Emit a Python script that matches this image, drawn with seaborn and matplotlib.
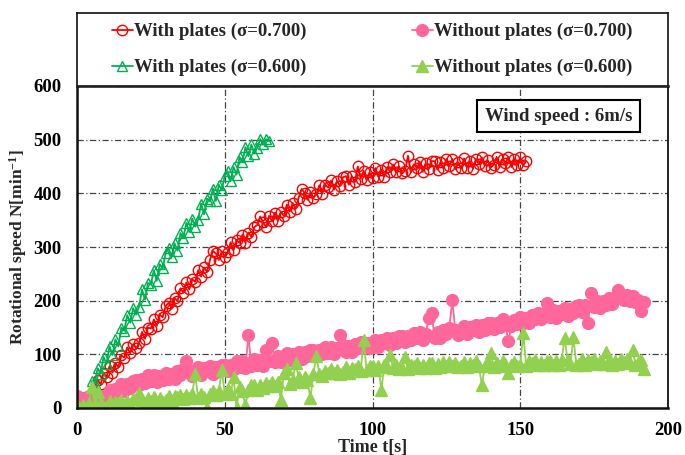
import numpy as np
import pandas as pd
import matplotlib
matplotlib.use("Agg")
import matplotlib.pyplot as plt
import seaborn as sns

# rotational speed N [min^-1], one reading per second from t = 0 s
with_070 = [
    1, 0, 3, 1, 4, 9, 30, 52, 44, 66, 57,
    78, 66, 84, 76, 98, 94, 113, 102, 119, 111,
    121, 142, 129, 150, 148, 165, 153, 174, 169, 190,
    196, 185, 205, 199, 223, 215, 234, 221, 240, 235,
    257, 245, 262, 254, 276, 293, 288, 276, 292, 282,
    290, 309, 294, 313, 308, 323, 308, 327, 319, 337,
    341, 357, 346, 337, 358, 348, 364, 349, 366, 358,
    379, 366, 382, 371, 392, 408, 401, 388, 402, 392,
    398, 415, 399, 416, 411, 424, 407, 423, 414, 430,
    432, 416, 432, 421, 450, 427, 442, 424, 439, 429,
    447, 431, 444, 431, 449, 440, 454, 439, 450, 437,
    442, 470, 439, 454, 447, 459, 440, 456, 445, 460,
    460, 444, 458, 447, 464, 450, 464, 445, 458, 447,
    465, 448, 460, 446, 464, 454, 467, 451, 462, 448,
    453, 468, 449, 464, 456, 468, 449, 464, 453, 467, 452, 460,
]
with_060 = [
    0, 1, 0, 2, 3,
    50, 47, 74, 64, 95, 82,
    115, 99, 128, 115, 150, 144, 173, 159, 186, 174,
    189, 221, 202, 233, 230, 257, 237, 268, 260, 289,
    298, 281, 307, 293, 326, 317, 345, 328, 353, 338,
    351, 381, 361, 390, 385, 409, 386, 416, 406, 433,
    441, 423, 449, 435, 468, 459, 486, 469, 491, 474,
    485, 501, 491, 501, 497,
]
without_070 = [
    22, 9, 19, 8, 23, 15, 26, 13, 23, 13,
    18, 33, 21, 36, 33, 44, 31, 45, 38, 51,
    53, 42, 54, 47, 61, 51, 62, 48, 60, 52,
    66, 54, 64, 54, 69, 62, 72, 88, 70, 60,
    63, 76, 62, 75, 70, 78, 64, 77, 69, 81,
    81, 69, 81, 73, 87, 77, 88, 74, 136, 78,
    92, 80, 89, 79, 108, 87, 121, 86, 96, 86,
    90, 103, 89, 101, 96, 105, 91, 104, 96, 108,
    108, 96, 108, 100, 114, 103, 114, 100, 112, 136,
    117, 105, 115, 105, 120, 112, 123, 111, 121, 111,
    114, 127, 113, 126, 121, 131, 117, 130, 122, 134,
    135, 123, 135, 126, 140, 130, 141, 126, 138, 168,
    177, 131, 141, 130, 145, 138, 149, 201, 146, 136,
    140, 153, 138, 151, 146, 155, 141, 154, 146, 158,
    159, 147, 159, 151, 165, 155, 124, 152, 164, 156,
    170, 158, 168, 158, 173, 166, 177, 165, 175, 195,
    169, 182, 168, 181, 176, 186, 172, 185, 177, 190,
    191, 179, 191, 158, 214, 189, 200, 186, 199, 191,
    205, 193, 203, 220, 208, 201, 211, 199, 208, 198,
    201, 181, 197,
]
without_060 = [
    6, 0, 5, 0, 9, 40, 10, 30, 9, 2,
    4, 13, 3, 12, 9, 15, 6, 13, 7, 16,
    16, 28, 15, 9, 19, 13, 20, 12, 19, 12,
    14, 23, 13, 22, 20, 25, 17, 24, 18, 27,
    63, 19, 27, 21, 0, 26, 32, 25, 32, 70,
    27, 36, 27, 57, 0, 39, 31, 5, 33, 42,
    43, 34, 42, 37, 46, 41, 48, 41, 48, 15,
    65, 72, 44, 53, 83, 57, 49, 57, 52, 18,
    64, 97, 64, 59, 69, 65, 72, 65, 71, 64,
    67, 76, 66, 75, 72, 78, 69, 127, 70, 79,
    79, 70, 78, 33, 81, 76, 99, 74, 80, 73,
    75, 95, 73, 81, 79, 84, 75, 81, 75, 84,
    84, 75, 82, 76, 85, 79, 85, 78, 84, 76,
    78, 86, 76, 84, 81, 87, 78, 43, 78, 86,
    103, 77, 84, 78, 88, 82, 65, 80, 86, 78,
    80, 139, 79, 87, 84, 89, 80, 86, 80, 88,
    88, 80, 87, 81, 90, 130, 90, 82, 132, 80,
    82, 91, 81, 89, 86, 91, 82, 88, 82, 105,
    90, 81, 88, 82, 91, 85, 91, 83, 108, 81,
    83, 90, 72,
]

x_ticks = [0, 50, 100, 150, 200]
y_ticks = [0, 100, 200, 300, 400, 500, 600]

sns.set_style("white")
plt.rcParams["font.family"] = ["Liberation Serif", "DejaVu Serif"]
plt.rcParams["font.weight"] = "bold"
plt.rcParams["mathtext.fontset"] = "custom"
plt.rcParams["mathtext.rm"] = "Liberation Serif:bold"
plt.rcParams["mathtext.it"] = "Liberation Serif:bold"
plt.rcParams["mathtext.bf"] = "Liberation Serif:bold"

W, H = 685, 455
fig = plt.figure(figsize=(W / 100, H / 100), dpi=100)
ax = fig.add_axes([77 / W, 1 - 408 / H, (668 - 77) / W, (408 - 86) / H])
lax = fig.add_axes([77 / W, 1 - 86 / H, (668 - 77) / W, (86 - 13) / H])


def draw(vals, label, color, marker, filled, ms, lw):
    df = pd.DataFrame({"t": np.arange(len(vals)), "N": vals})
    sns.lineplot(data=df, x="t", y="N", ax=ax, estimator=None, sort=False,
                 color=color, linewidth=lw, marker=marker, markersize=ms,
                 markerfacecolor=color if filled else "none",
                 markeredgecolor=color, markeredgewidth=1.0, label=label)


draw(with_070, "With plates (σ=0.700)", "#FF0000", "o", False, 7.5, 2.6)
draw(without_070, "Without plates (σ=0.700)", "#FF6699", "o", True, 8.5, 2.4)
draw(with_060, "With plates (σ=0.600)", "#00B050", "^", False, 6.5, 2.6)
draw(without_060, "Without plates (σ=0.600)", "#92D050", "^", True, 8.5, 2.2)

handles, labels = ax.get_legend_handles_labels()
if ax.get_legend() is not None:
    ax.get_legend().remove()
for h in handles:
    h.set_linewidth(1.3)
order = [0, 2, 1, 3]
lax.legend([handles[i] for i in order], [labels[i] for i in order],
           loc="center", ncol=2, frameon=False, fontsize=13.5,
           handlelength=1.1, handletextpad=0.1, columnspacing=5.6,
           labelspacing=1.0, bbox_to_anchor=(0.5, 0.5))
lax.set_xticks([])
lax.set_yticks([])
for s in lax.spines.values():
    s.set_linewidth(1.3)
    s.set_color("#222222")

ax.set_xlim(0, 200)
ax.set_ylim(0, 600)
ax.set_xticks(x_ticks)
ax.set_yticks(y_ticks)
ax.set_axisbelow(True)
ax.grid(True, color="#444444", linewidth=0.9, linestyle=(0, (5, 2, 1, 2)))
ax.tick_params(axis="both", direction="in", length=5, width=1.0,
               labelsize=13.5, colors="black")
ax.tick_params(axis="x", pad=10)
ax.tick_params(axis="y", pad=11)
for s in ax.spines.values():
    s.set_linewidth(1.8)
    s.set_color("#111111")
ax.spines["right"].set_linewidth(1.3)

ax.set_xlabel("Time t[s]", fontsize=13, fontweight="bold", labelpad=0)
ax.set_ylabel("Rotational speed N[min$^{-1}$]", fontsize=12.5,
              fontweight="bold", labelpad=3)

ax.text(163, 544, "Wind speed : 6m/s", fontsize=13.5, fontweight="bold",
        ha="center", va="center",
        bbox=dict(boxstyle="square,pad=0.4", facecolor="white",
                  edgecolor="black", linewidth=1.5))

fig.savefig("out.png", dpi=100)
plt.close(fig)
